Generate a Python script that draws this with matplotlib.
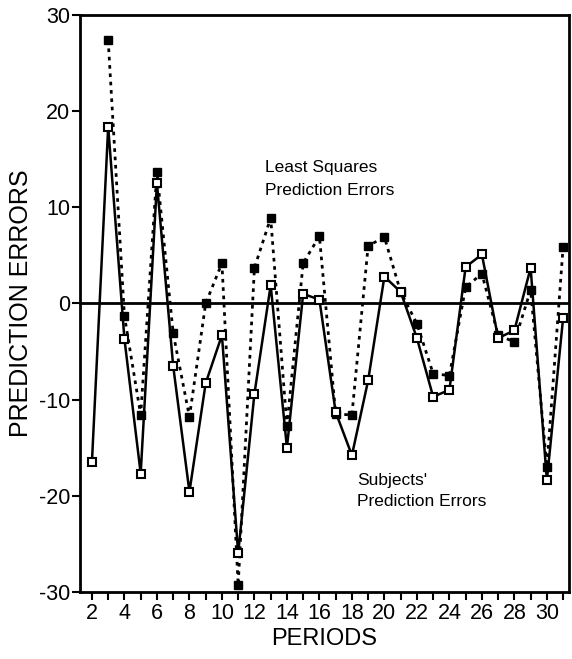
import numpy as np
import matplotlib
matplotlib.use("Agg")
import matplotlib.pyplot as plt

plt.rcParams['font.family'] = ['Liberation Sans', 'DejaVu Sans']

# subjects' prediction errors (solid line, open squares), periods 2..31
subj_periods = list(range(2, 32))
subj_errors = [-16.5, 18.4, -3.7, -17.7, 12.5, -6.5, -19.6, -8.3, -3.3, -26.0,
               -9.4, 1.9, -15.0, 1.0, 0.4, -11.3, -15.8, -8.0, 2.8, 1.2,
               -3.6, -9.7, -9.0, 3.8, 5.1, -3.6, -2.8, 3.7, -18.4, -1.5]

# least squares prediction errors (dashed line, filled squares), periods 3..31
ls_periods = list(range(3, 32))
ls_errors = [27.4, -1.3, -11.6, 13.7, -3.1, -11.8, 0.0, 4.2, -29.3,
             3.7, 8.9, -12.7, 4.2, 7.0, -11.5, -11.6, 6.0, 6.9, 1.2,
             -2.1, -7.3, -7.5, 1.7, 3.1, -3.3, -4.0, 1.4, -17.0, 5.9]

x_labels = [2, 4, 6, 8, 10, 12, 14, 16, 18, 20, 22, 24, 26, 28, 30]
y_ticks = [-30, -20, -10, 0, 10, 20, 30]

fig = plt.figure(figsize=(5.72, 6.59), dpi=100)
ax = fig.add_axes([0.14, 0.102, 0.855, 0.875])

ax.axhline(0, color="black", lw=2, zorder=1)

ax.plot(ls_periods, ls_errors, color="black", lw=2, linestyle=(0, (1.3, 1.7)),
        marker="s", markersize=6, markerfacecolor="black",
        markeredgecolor="black", zorder=3)
ax.plot(subj_periods, subj_errors, color="black", lw=1.8, linestyle="-",
        marker="s", markersize=5.2, markerfacecolor="white",
        markeredgecolor="black", markeredgewidth=1.5, zorder=4)

ax.text(12.65, 14.1, "Least Squares", fontsize=12.5, va="center", ha="left")
ax.text(12.65, 11.8, "Prediction Errors", fontsize=12.5, va="center", ha="left")
ax.text(18.3, -18.4, "Subjects'", fontsize=12.5, va="center", ha="left")
ax.text(18.3, -20.6, "Prediction Errors", fontsize=12.5, va="center", ha="left")

ax.set_xlim(1.27, 31.37)
ax.set_ylim(-30, 30)
ax.set_yticks(y_ticks)
ax.set_yticklabels([str(v) for v in y_ticks], fontsize=15.5)
ax.set_xticks(x_labels)
ax.set_xticklabels([str(v) for v in x_labels], fontsize=15.5)
ax.set_xticks(range(2, 32), minor=True)
ax.tick_params(axis="both", which="both", direction="out", width=1.5, color="black")
ax.tick_params(axis="x", which="major", length=6, pad=2)
ax.tick_params(axis="x", which="minor", length=6)
ax.tick_params(axis="y", which="major", length=6, pad=1)

for spine in ax.spines.values():
    spine.set_linewidth(2)

ax.set_xlabel("PERIODS", fontsize=17, labelpad=3)
ax.set_ylabel("PREDICTION ERRORS", fontsize=18, labelpad=4)

fig.savefig("out.png", dpi=100)
